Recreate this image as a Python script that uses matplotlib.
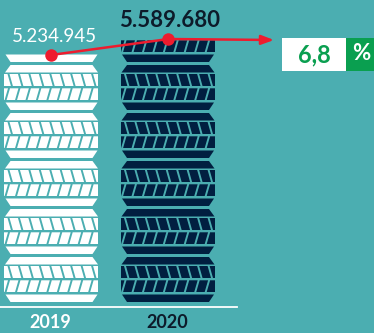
import matplotlib
matplotlib.use("Agg")
from matplotlib import pyplot as plt
from matplotlib.patches import Polygon, Rectangle

years = ["2019", "2020"]
values = [5234945, 5589680]
value_labels = ["5.234.945", "5.589.680"]
change_label = "6,8"

bg = "#4BAEB1"
navy = "#011F40"
red = "#EE1C2E"
green = "#0A9F50"

W, H = 374, 333
lefts = [4.5, 121]          # left edge of each tire stack
tire_w = 94
stack_bottom = 302
pitch = 48
n_tires = 6
px_per_unit = 14 / (values[1] - values[0])


def y_of(v):
    # top of the pictogram stack for a value, in pixels
    return 54 - (v - values[0]) * px_per_unit


def draw_tire(ax, x0, y0, color):
    # y0 is the bottom of the tire
    x1 = x0 + tire_w
    shapes = [
        # top strip
        [(x0 + 6, y0 - 45), (x1 - 6, y0 - 45), (x1 - 0.5, y0 - 37.5), (x0 + 0.5, y0 - 37.5)],
        # bottom strip
        [(x0 + 1, y0 - 7.5), (x1 - 1, y0 - 7.5), (x1 - 6, y0), (x0 + 6, y0)],
    ]
    for s in shapes:
        ax.add_patch(Polygon(s, closed=True, fc=color, ec="none"))
    # tread blocks, two rows slanted opposite ways
    period = 10.45
    gap = 2.0
    top_a, bot_a = y0 - 36, y0 - 24
    top_b, bot_b = y0 - 21.7, y0 - 10
    for i in range(-1, 10):
        xa = x0 + 5 + i * period
        a = Polygon([(xa, top_a), (xa + period - gap, top_a),
                     (xa + period - gap + 3.4, bot_a), (xa + 3.4, bot_a)],
                    closed=True, fc=color, ec="none")
        ax.add_patch(a)
        a.set_clip_path(Rectangle((x0, top_a), tire_w, bot_a - top_a, transform=ax.transData))
        xb = x0 + 5.5 + i * period
        b = Polygon([(xb, top_b), (xb + period - gap, top_b),
                     (xb + period - gap - 3.4, bot_b), (xb - 3.4, bot_b)],
                    closed=True, fc=color, ec="none")
        ax.add_patch(b)
        b.set_clip_path(Rectangle((x0, top_b), tire_w, bot_b - top_b, transform=ax.transData))


plt.rcParams["font.family"] = ["Lato", "DejaVu Sans"]
fig = plt.figure(figsize=(W / 100, H / 100), dpi=100, facecolor=bg)
ax = fig.add_axes([0, 0, 1, 1])
ax.set_xlim(0, W)
ax.set_ylim(H, 0)
ax.axis("off")

colors = ["white", navy]
for j in range(len(values)):
    for k in range(n_tires):
        draw_tire(ax, lefts[j], stack_bottom - k * pitch, colors[j])

# hide what pokes out above the value height
for j in range(len(values)):
    ax.add_patch(Rectangle((lefts[j] - 2, 0), tire_w + 4, y_of(values[j]), fc=bg, ec="none"))

ax.plot([0, 237], [306.5, 306.5], color="white", lw=1.3)

ax.text(54, 41.7, value_labels[0], color="white", fontsize=13.5, ha="center", va="baseline")
ax.text(169.5, 27.3, value_labels[1], color="#0D1B2A", fontsize=16, fontweight="bold", ha="center", va="baseline")
ax.text(50.5, 328, years[0], color="white", fontsize=13, fontweight="bold", ha="center", va="baseline")
ax.text(167.5, 328, years[1], color="#0D1B2A", fontsize=13, fontweight="bold", ha="center", va="baseline")

# red connector
dots_x = [51, 168.5]
dots_y = [y_of(values[0]) + 1, y_of(values[1]) - 1]
ax.plot(dots_x, dots_y, color=red, lw=1.8, zorder=5)
ax.plot(dots_x, dots_y, "o", color=red, ms=9, mec="none", zorder=6)
ax.annotate("", xy=(274, 40), xytext=(dots_x[1], dots_y[1]),
            arrowprops=dict(arrowstyle="-|>,head_length=0.75,head_width=0.28", color=red, lw=1.8,
                            shrinkA=0, shrinkB=0), zorder=5)

# change box
ax.add_patch(Rectangle((282, 38), 64, 33, fc="white", ec="none"))
ax.add_patch(Rectangle((346, 38), 28, 33, fc=green, ec="none"))
ax.text(314, 62.5, change_label, color=green, fontsize=17, fontweight="bold", ha="center", va="baseline")
ax.text(361, 60.5, "%", color="white", fontsize=16, fontweight="bold", ha="center", va="baseline")

fig.savefig("out.png", dpi=100, facecolor=bg)
